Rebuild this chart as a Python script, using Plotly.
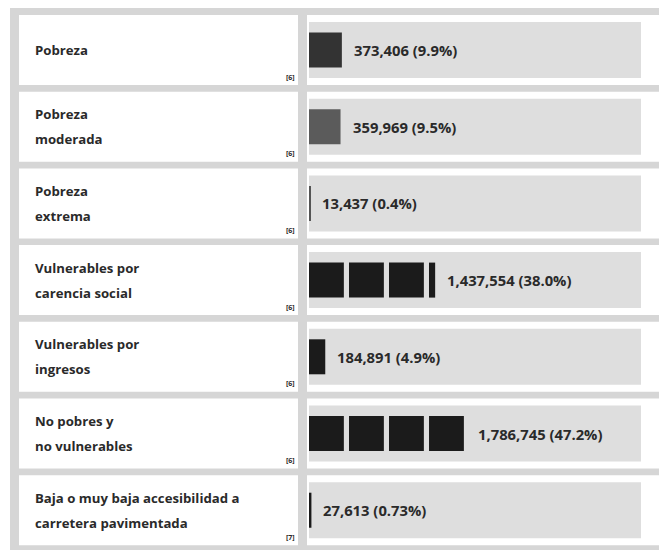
import numpy as np
import plotly.graph_objects as go

# ---- data ----
labels = [
    "Pobreza",
    "Pobreza\nmoderada",
    "Pobreza\nextrema",
    "Vulnerables por\ncarencia social",
    "Vulnerables por\ningresos",
    "No pobres y\nno vulnerables",
    "Baja o muy baja accesibilidad a\ncarretera pavimentada",
]
counts = [373406, 359969, 13437, 1437554, 184891, 1786745, 27613]
percents = [9.9, 9.5, 0.4, 38.0, 4.9, 47.2, 0.73]
percent_labels = ["9.9%", "9.5%", "0.4%", "38.0%", "4.9%", "47.2%", "0.73%"]
refs = ["[6]", "[6]", "[6]", "[6]", "[6]", "[6]", "[7]"]
bar_colors = ["#333333", "#5b5b5b", "#555555", "#1b1b1b", "#1b1b1b", "#1b1b1b", "#1b1b1b"]

# ---- styling ----
OFF = 8                      # page body margin
W, H = 667 - OFF, 550 - OFF  # figure size
FRAME = "#d6d6d6"
TRACK = "#dedede"
TEXT = "#2a2a2a"
FONT = "Open Sans"
PITCH = 76.7          # px per row
ROW0 = 50             # px center of first row (window coords)
BLOCK = 10.5          # block width in % units
PERIOD = 12.05        # block period in % units

def px(x):
    return (x - OFF) / W

def py(y):
    return 1 - (y - OFF) / H

n = len(labels)
ytop = ROW0 - PITCH / 2
ybot = ROW0 + (n - 0.5) * PITCH
cell_half = 35 / PITCH
track_half = 28 / PITCH
bar_width = 35 / PITCH

fig = go.Figure()

# segmented bars
segments = []
for v in percents:
    starts = np.arange(0, v, PERIOD)
    segments.append([(s, min(BLOCK, v - s)) for s in starts])
max_seg = max(len(s) for s in segments)
for k in range(max_seg):
    xs, bases, ys, cols = [], [], [], []
    for i, segs in enumerate(segments):
        if k < len(segs):
            bases.append(segs[k][0])
            xs.append(segs[k][1])
            ys.append(i)
            cols.append(bar_colors[i])
    fig.add_trace(go.Bar(
        x=xs, base=bases, y=ys, orientation="h", width=bar_width,
        marker=dict(color=cols, line=dict(width=0)),
        hoverinfo="skip", showlegend=False,
    ))

shapes = [dict(type="rect", xref="paper", yref="paper",
               x0=px(10), x1=1, y0=0, y1=1,
               fillcolor=FRAME, line=dict(width=0), layer="below")]
annotations = []
for i in range(n):
    shapes.append(dict(type="rect", xref="paper", yref="y",
                       x0=px(19), x1=px(298), y0=i - cell_half, y1=i + cell_half,
                       fillcolor="white", line=dict(width=0), layer="below"))
    shapes.append(dict(type="rect", xref="paper", yref="y",
                       x0=px(307), x1=1, y0=i - cell_half, y1=i + cell_half,
                       fillcolor="white", line=dict(width=0), layer="below"))
    shapes.append(dict(type="rect", xref="paper", yref="y",
                       x0=px(309), x1=px(641), y0=i - track_half, y1=i + track_half,
                       fillcolor=TRACK, line=dict(width=0), layer="below"))
    lines = labels[i].split("\n")
    for j, line in enumerate(lines):
        shift = (len(lines) - 1) / 2 * 25 - j * 25
        annotations.append(dict(
            xref="paper", yref="y", x=px(33), y=i, yshift=shift,
            xanchor="left", yanchor="middle", showarrow=False,
            text="<b>" + line + "</b>",
            font=dict(family=FONT, size=13.2, color=TEXT)))
    annotations.append(dict(
        xref="paper", yref="y", x=px(297), y=i, yshift=-27,
        xanchor="right", yanchor="middle", showarrow=False,
        text="<b>" + refs[i] + "</b>",
        font=dict(family=FONT, size=7, color=TEXT)))
    annotations.append(dict(
        xref="x", yref="y", x=percents[i], y=i, xshift=10,
        xanchor="left", yanchor="middle", showarrow=False,
        text="<b>{:,} ({})</b>".format(counts[i], percent_labels[i]),
        font=dict(family=FONT, size=14.8, color=TEXT)))

fig.update_layout(
    width=W, height=H,
    margin=dict(l=0, r=0, t=0, b=0),
    paper_bgcolor="white", plot_bgcolor="rgba(0,0,0,0)",
    barmode="overlay",
    shapes=shapes, annotations=annotations,
    xaxis=dict(domain=[px(309), px(641)], range=[0, 100], visible=False, fixedrange=True),
    yaxis=dict(domain=[max(0, py(ybot)), min(1, py(ytop))], range=[n - 0.5, -0.5],
               visible=False, fixedrange=True),
    showlegend=False,
)

fig.write_html("out.html")
